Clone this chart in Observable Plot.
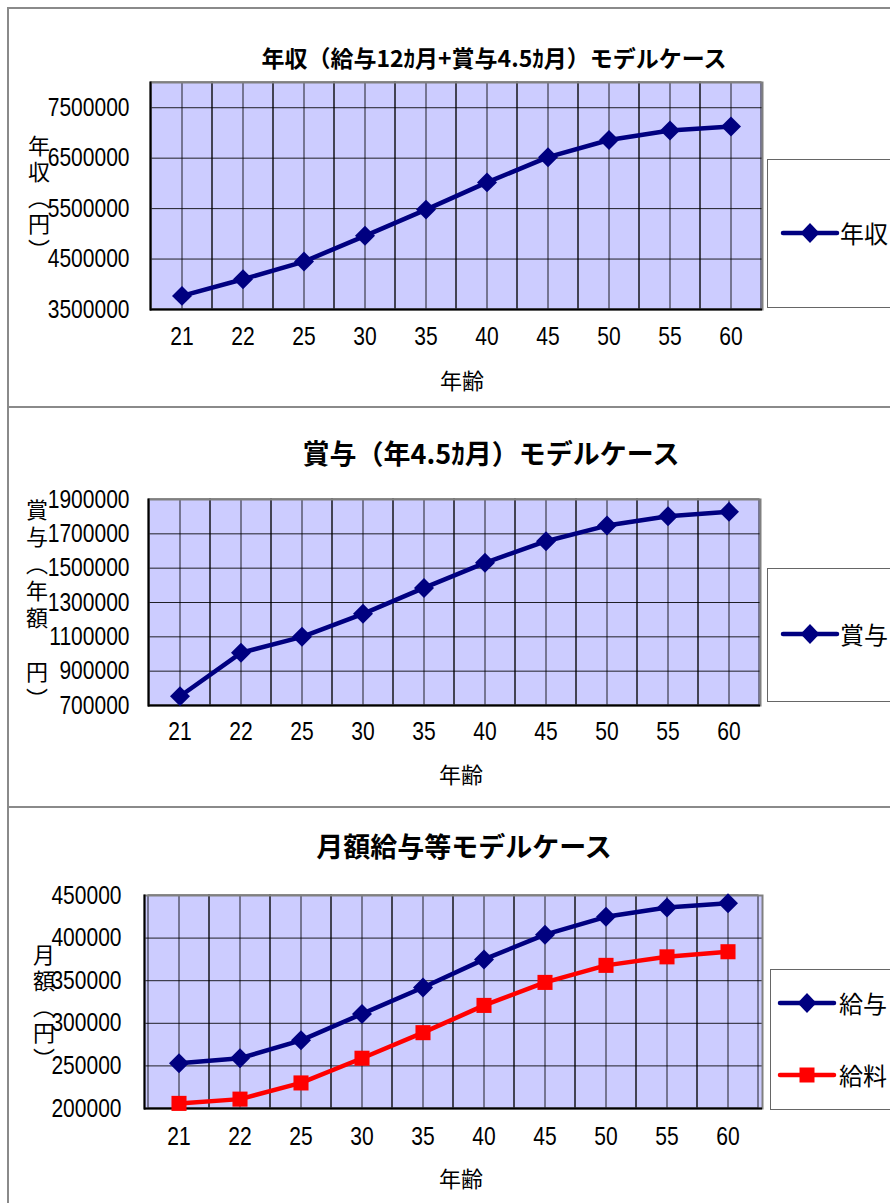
<!DOCTYPE html>
<html>
<head>
<meta charset="utf-8">
<script src="https://cdn.jsdelivr.net/npm/d3@7"></script>
<script src="https://cdn.jsdelivr.net/npm/@observablehq/plot@0.6"></script>
<style>
  body { margin: 0; background: #fff; }
  #page { position: relative; width: 890px; height: 1203px; overflow: hidden; background: #fff;
          font-family: "Noto Sans CJK JP", sans-serif; color: #000; }
  .hline { position: absolute; left: 7px; right: 0; height: 0; border-top: 2px solid #8a8a8a; }
  .vline { position: absolute; left: 7px; top: 8px; bottom: 0; width: 0; border-left: 2px solid #8a8a8a; }
  .chart { position: absolute; left: 0; }
  .title { position: absolute; transform: translate(-50%, -50%); white-space: nowrap; font-weight: bold; line-height: 1; }
  .xlab { position: absolute; transform: translate(-50%, -50%); font-size: 22px; line-height: 1; white-space: nowrap; }
  .ylab { position: absolute; writing-mode: vertical-rl; font-size: 22px; line-height: 22px; white-space: nowrap; }
  .legend { position: absolute; width: 200px; border: 1px solid #666; background: #fff; box-sizing: border-box; }
  .lsym { position: absolute; }
  .ltext { position: absolute; transform: translateY(-50%); font-size: 24px; line-height: 1; white-space: nowrap; }
</style>
</head>
<body>
<div id="page"></div>
<script>
// ---- data ----
const ages = ["21", "22", "25", "30", "35", "40", "45", "50", "55", "60"];
const annualIncome = [3770000, 4100000, 4450000, 4960000, 5480000, 6020000, 6520000, 6860000, 7050000, 7130000];
const bonus = [754000, 1007000, 1100000, 1234000, 1385000, 1531000, 1657000, 1748000, 1803000, 1828000];
const monthlyPay = [253000, 259000, 280000, 311000, 342000, 375000, 404000, 425000, 436000, 441000];
const monthlySalary = [206000, 211000, 230000, 259000, 289000, 321000, 348000, 368000, 378000, 384000];

const ticks1 = [3500000, 4500000, 5500000, 6500000, 7500000];
const domain1 = [3500000, 8000000];
const ticks2 = [700000, 900000, 1100000, 1300000, 1500000, 1700000, 1900000];
const domain2 = [700000, 1900000];
const ticks3 = [200000, 250000, 300000, 350000, 400000, 450000];
const domain3 = [200000, 450000];

const titles = ["年収（給与12ｶ月+賞与4.5ｶ月）モデルケース", "賞与（年4.5ｶ月）モデルケース", "月額給与等モデルケース"];
const yLabels = ["年収（円）", "賞与（年額　円）", "月額（円）"];
const xLabel = "年齢";
const names1 = ["年収"];
const names2 = ["賞与"];
const names3 = ["給与", "給料"];

const NAVY = "#000080", RED = "#ff0000";
const numFont = "'Liberation Sans', Arial, sans-serif";

const page = document.getElementById("page");

function el(tag, cls, css, text) {
  const e = document.createElement(tag);
  if (cls) e.className = cls;
  if (css) Object.assign(e.style, css);
  if (text != null) e.textContent = text;
  page.appendChild(e);
  return e;
}

function makeChart(cfg) {
  const marks = [
    Plot.frame({fill: "#ccccff"}),
    Plot.gridY(cfg.ticks, {stroke: "#000", strokeOpacity: 0.85, strokeWidth: 1}),
    Plot.barY(ages, {x: d => d, y1: cfg.domain[0], y2: cfg.domain[1], fill: "none", stroke: "#000", strokeOpacity: 0.85, strokeWidth: 1}),
    Plot.gridX(ages, {stroke: "#000", strokeOpacity: 0.85, strokeWidth: 1}),
    Plot.frame({stroke: "#808080", strokeWidth: 2}),
    Plot.frame({anchor: "left", stroke: "#000", strokeWidth: 2}),
    Plot.ruleY([cfg.domain[0]], {stroke: "#000", strokeWidth: 2}),
    Plot.axisX({tickSize: 0, tickPadding: cfg.xPad, label: null}),
    Plot.axisY(cfg.ticks, {tickSize: 0, tickPadding: cfg.yPad, label: null, tickFormat: d => String(d)})
  ];
  for (const s of cfg.series) {
    const rows = ages.map((a, i) => ({age: a, value: s.values[i]}));
    marks.push(Plot.line(rows, {x: "age", y: "value", stroke: s.color, strokeWidth: 4.5, strokeLinejoin: "round"}));
    marks.push(Plot.dot(rows, {x: "age", y: "value", symbol: s.symbol, r: s.r, fill: s.color, stroke: "none"}));
  }
  return Plot.plot({
    width: 890,
    height: cfg.height,
    marginTop: cfg.mt, marginBottom: cfg.mb, marginLeft: cfg.ml, marginRight: cfg.mr,
    x: {type: "band", domain: ages, padding: 0},
    y: {domain: cfg.domain},
    style: {fontFamily: numFont, fontSize: "25px", color: "#000", background: "transparent", overflow: "visible"},
    marks
  });
}

const charts = [
  {top: 8, height: 400, mt: 74, mb: 99, ml: 150, mr: 128, xPad: 18, yPad: 21,
   domain: domain1, ticks: ticks1,
   series: [{values: annualIncome, color: NAVY, symbol: "diamond2", r: 9}]},
  {top: 408, height: 399, mt: 91, mb: 102, ml: 148, mr: 130, xPad: 17, yPad: 19,
   domain: domain2, ticks: ticks2,
   series: [{values: bonus, color: NAVY, symbol: "diamond2", r: 9}]},
  {top: 807, height: 396, mt: 88, mb: 95, ml: 144, mr: 128, xPad: 19, yPad: 23,
   domain: domain3, ticks: ticks3,
   series: [{values: monthlyPay, color: NAVY, symbol: "diamond2", r: 9},
            {values: monthlySalary, color: RED, symbol: "square", r: 8.5}]}
];

for (const c of charts) {
  const svg = makeChart(c);
  svg.classList.add("chart");
  svg.style.position = "absolute";
  svg.style.top = c.top + "px";
  svg.style.left = "0px";
  page.appendChild(svg);
  // condense the tick labels horizontally (narrow gothic look of the original)
  svg.querySelectorAll("text").forEach(t => {
    const w = t.getComputedTextLength();
    if (w > 0) {
      t.setAttribute("textLength", (w * 0.84).toFixed(1));
      t.setAttribute("lengthAdjust", "spacingAndGlyphs");
    }
  });
}

// panel borders
el("div", "hline", {top: "7px"});
el("div", "hline", {top: "406px"});
el("div", "hline", {top: "806px"});
el("div", "vline", {top: "7px"});

// titles
el("div", "title", {left: "494px", top: "57px", fontSize: "23px"}, titles[0]);
el("div", "title", {left: "491px", top: "452px", fontSize: "27px"}, titles[1]);
el("div", "title", {left: "464px", top: "845px", fontSize: "27px"}, titles[2]);

// x labels
el("div", "xlab", {left: "462px", top: "379px"}, xLabel);
el("div", "xlab", {left: "461px", top: "773px"}, xLabel);
el("div", "xlab", {left: "461px", top: "1177px"}, xLabel);

// y labels (vertical)
el("div", "ylab", {left: "28px", top: "135px", letterSpacing: "4px"}, yLabels[0]);
el("div", "ylab", {left: "26px", top: "499px", letterSpacing: "5px"}, yLabels[1]);
el("div", "ylab", {left: "33px", top: "944px", letterSpacing: "4px"}, yLabels[2]);

// legends
function legendSymbol(x, y, color, symbol) {
  const ns = "http://www.w3.org/2000/svg";
  const svg = document.createElementNS(ns, "svg");
  svg.setAttribute("width", 60); svg.setAttribute("height", 24);
  svg.setAttribute("class", "lsym");
  svg.style.left = (x - 30) + "px"; svg.style.top = (y - 12) + "px";
  const line = document.createElementNS(ns, "line");
  line.setAttribute("x1", 3); line.setAttribute("x2", 57); line.setAttribute("y1", 12); line.setAttribute("y2", 12);
  line.setAttribute("stroke", color); line.setAttribute("stroke-width", 4.5); line.setAttribute("stroke-linecap", "round");
  svg.appendChild(line);
  const p = document.createElementNS(ns, "path");
  p.setAttribute("d", symbol === "square" ? "M22.5,4.5h15v15h-15z" : "M30,2L39.5,12L30,22L20.5,12Z");
  p.setAttribute("fill", color);
  svg.appendChild(p);
  page.appendChild(svg);
}

el("div", "legend", {left: "767px", top: "159px", height: "149px"});
legendSymbol(810, 233, NAVY, "diamond");
el("div", "ltext", {left: "840px", top: "233px"}, names1[0]);

el("div", "legend", {left: "767px", top: "568px", height: "134px"});
legendSymbol(810, 634, NAVY, "diamond");
el("div", "ltext", {left: "840px", top: "634px"}, names2[0]);

el("div", "legend", {left: "770px", top: "969px", height: "141px"});
legendSymbol(807, 1003, NAVY, "diamond");
el("div", "ltext", {left: "839px", top: "1003px"}, names3[0]);
legendSymbol(807, 1075, RED, "square");
el("div", "ltext", {left: "839px", top: "1075px"}, names3[1]);
</script>
</body>
</html>
